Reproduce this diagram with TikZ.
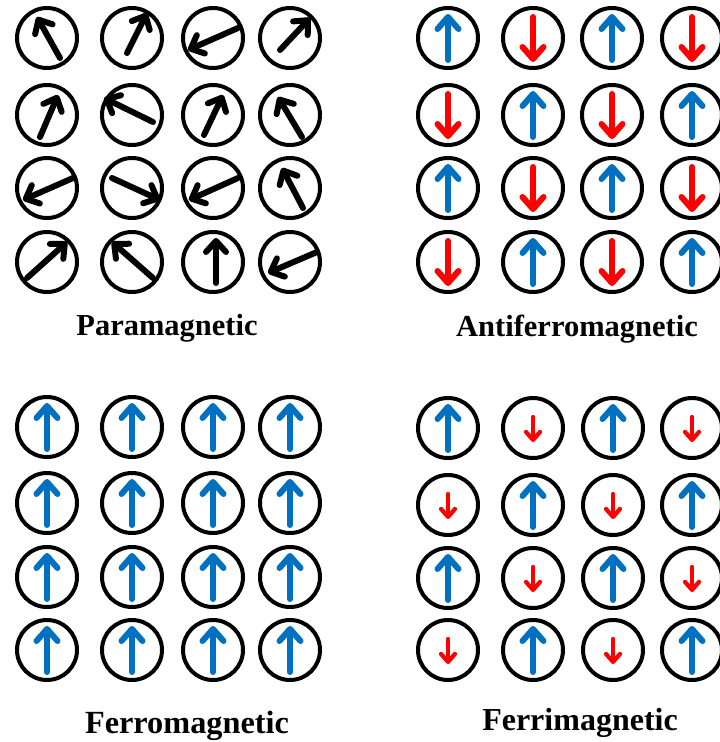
\documentclass[tikz,border=0pt]{standalone}
\usepackage{fontspec}
\setmainfont{Liberation Serif}
\usetikzlibrary{arrows.meta}
\definecolor{spinblue}{RGB}{0,112,192}
\definecolor{spinred}{RGB}{255,0,0}
\tikzset{
  ring/.style={circle, draw=black, line width=4pt, minimum size=60pt, inner sep=0pt},
  shadowed/.style={preaction={draw=black, draw opacity=0.15, transform canvas={shift={(1.5pt,-2pt)}}}},
  para/.style={shadowed, draw=black, line width=6pt, line cap=round, -{Straight Barb[round, length=11pt, width=20pt]}},
  bigup/.style={shadowed, draw=spinblue, line width=6pt, line cap=round, -{Straight Barb[round, length=12pt, width=21pt]}},
  bigdown/.style={shadowed, draw=spinred, line width=6pt, line cap=round, -{Straight Barb[round, length=12pt, width=21pt]}},
  smalldown/.style={shadowed, draw=spinred, line width=4.2pt, line cap=round, -{Straight Barb[round, length=8pt, width=14pt]}},
  lbl/.style={anchor=base, inner sep=0pt, font=\bfseries\fontsize{31}{36}\selectfont}
}
\newcommand\spinarrow[4]{\draw[#1] ([shift={(#3)}]#2.center) -- ([shift={(#4)}]#2.center);}
\begin{document}
\begin{tikzpicture}[x=1pt, y=-1pt]
\useasboundingbox (0,0) rectangle (720,742);
% ---------- Paramagnetic ----------
\foreach \x [count=\c] in {47,132,213,290}
  \foreach \y [count=\r] in {38,115,188,262}
    \node[ring] (p\r\c) at (\x,\y) {};
\spinarrow{para}{p11}{13,20}{-10,-21}
\spinarrow{para}{p12}{-5,15}{15,-25}
\spinarrow{para}{p13}{25,-10}{-25,12}
\spinarrow{para}{p14}{-10,12}{20,-20}
\spinarrow{para}{p21}{-7,22}{11,-20}
\spinarrow{para}{p22}{21,7}{-28,-17}
\spinarrow{para}{p23}{-9,20}{10,-20}
\spinarrow{para}{p24}{12,22}{-12,-18}
\spinarrow{para}{p31}{26,-10}{-24,12}
\spinarrow{para}{p32}{-20,-10}{28,12}
\spinarrow{para}{p33}{25,-10}{-24,12}
\spinarrow{para}{p34}{13,20}{-8,-20}
\spinarrow{para}{p41}{-20,16}{20,-20}
\spinarrow{para}{p42}{21,16}{-20,-20}
\spinarrow{para}{p43}{3,21}{3,-24}
\spinarrow{para}{p44}{27,-10}{-22,11}
\node[lbl] (tpara) at (167,335) {\fontsize{30.5}{36}\selectfont Paramagnetic};
% ---------- Antiferromagnetic ----------
\foreach \x [count=\c] in {448,533,612,692}
  \foreach \y [count=\r] in {38,115,188,262} {
    \node[ring] (a\r\c) at (\x,\y) {};
    \pgfmathtruncatemacro\parity{mod(\r+\c,2)}
    \ifnum\parity=0
      \spinarrow{bigup}{a\r\c}{0,22}{0,-24}
    \else
      \spinarrow{bigdown}{a\r\c}{0,-21}{0,24}
    \fi
  }
\node[lbl] (tanti) at (577,336) {\fontsize{30.5}{36}\selectfont Antiferromagnetic};
% ---------- Ferromagnetic ----------
\foreach \x [count=\c] in {47,132,213,290}
  \foreach \y [count=\r] in {427,503,577,650} {
    \node[ring] (f\r\c) at (\x,\y) {};
    \spinarrow{bigup}{f\r\c}{0,22}{0,-24}
  }
\node[lbl] (tferro) at (187,733) {\fontsize{32.3}{36}\selectfont Ferromagnetic};
% ---------- Ferrimagnetic ----------
\foreach \x [count=\c] in {448,533,613,692}
  \foreach \y [count=\r] in {428,505,578,650} {
    \node[ring] (i\r\c) at (\x,\y) {};
    \pgfmathtruncatemacro\parity{mod(\r+\c,2)}
    \ifnum\parity=0
      \spinarrow{bigup}{i\r\c}{0,22}{0,-24}
    \else
      \spinarrow{smalldown}{i\r\c}{0,-11}{0,14}
    \fi
  }
\node[lbl] (tferri) at (580,730) {\fontsize{32}{36}\selectfont Ferrimagnetic};
\end{tikzpicture}
\end{document}
